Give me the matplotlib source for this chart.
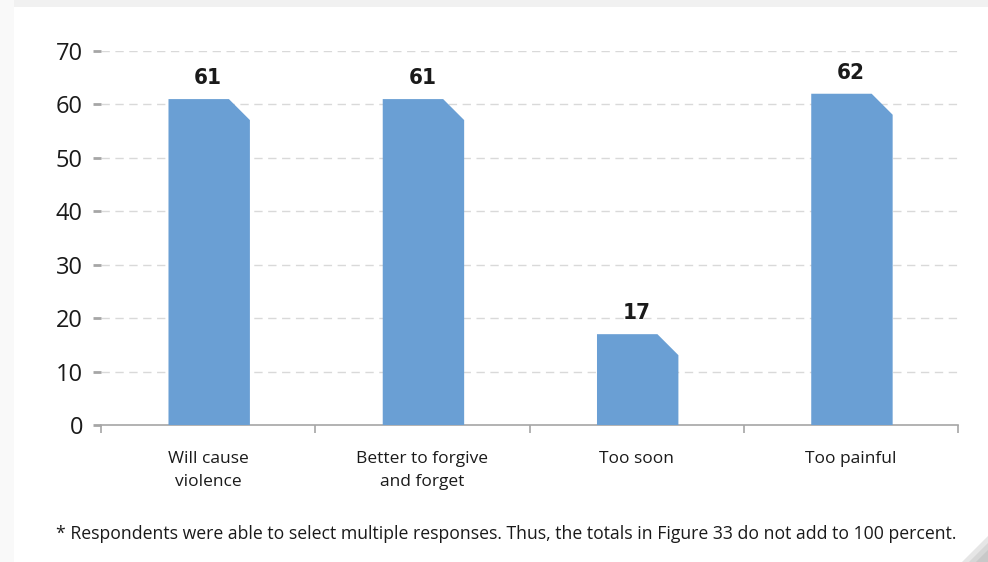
import matplotlib
matplotlib.use("Agg")
import matplotlib.pyplot as plt
from matplotlib.patches import Polygon, Rectangle
import numpy as np

categories = ["Will cause\nviolence", "Better to forgive\nand forget", "Too soon", "Too painful"]
values = [61, 61, 17, 62]
yticks = [0, 10, 20, 30, 40, 50, 60, 70]
footnote = ("* Respondents were able to select multiple responses. Thus, the totals in "
            "Figure 33 do not add to 100 percent.")

BAR_COLOR = "#6a9fd4"
GRID_COLOR = "#d9d9d9"
AXIS_COLOR = "#a6a6a6"
TEXT_COLOR = "#1a1a1a"
BASE_FONT = ["Open Sans", "DejaVu Sans"]
BOLD_FONT = ["DejaVu Sans"]

W, H, DPI = 988, 562, 100
fig = plt.figure(figsize=(W / DPI, H / DPI), dpi=DPI)
fig.patch.set_facecolor("white")

# faint page frame: grey strip along the top and the left edge
fig.patches.append(Rectangle((0, 1 - 7 / H), 1, 7 / H, transform=fig.transFigure,
                             facecolor="#f1f1f1", edgecolor="none", zorder=0))
fig.patches.append(Rectangle((0, 0), 14 / W, 1, transform=fig.transFigure,
                             facecolor="#f9f9f9", edgecolor="none", zorder=0))
# folded corner at the bottom right
for i, c in enumerate(["#e6e6e6", "#d6d6d6", "#c8c8c8"]):
    s = 26 - i * 7
    fig.patches.append(Polygon([(1 - s / W, 0), (1, s / H), (1, 0)], closed=True,
                               transform=fig.transFigure, facecolor=c,
                               edgecolor="none", zorder=1))

left, right = 101 / W, 958 / W
bottom, top = 1 - 425 / H, 1 - 51 / H
ax = fig.add_axes([left, bottom, right - left, top - bottom])
ax.set_facecolor("none")

n = len(categories)
ax.set_xlim(-0.5, n - 0.5)
ax.set_ylim(0, 70)

# bars with a clipped upper-right corner
bar_w = 0.38
ax_w_px = (right - left) * W
ax_h_px = (top - bottom) * H
cut_px = 21
dx = cut_px / (ax_w_px / n)
dy = cut_px / (ax_h_px / 70)
for i, v in enumerate(values):
    x0 = i - bar_w / 2 + 0.005
    x1 = i + bar_w / 2 + 0.005
    c = min(dy, v * 0.5)
    poly = Polygon([(x0, 0), (x0, v), (x1 - dx, v), (x1, v - c), (x1, 0)],
                   closed=True, facecolor=BAR_COLOR, edgecolor="none", zorder=3)
    ax.add_patch(poly)
    ax.annotate(str(v), xy=(i, v), xytext=(0, 8), textcoords="offset points",
                ha="center", va="bottom", fontsize=16, fontweight="bold",
                family=BOLD_FONT, fontstretch="condensed", color=TEXT_COLOR,
                zorder=4)

# dashed grid lines
for y in yticks[1:]:
    ax.axhline(y, color=GRID_COLOR, lw=1.0, dashes=(6, 4), zorder=1)

for s in ["top", "right", "left"]:
    ax.spines[s].set_visible(False)
ax.spines["bottom"].set_color(AXIS_COLOR)
ax.spines["bottom"].set_linewidth(1.2)

ax.set_yticks(yticks)
ax.set_yticklabels([str(t) for t in yticks], family=BASE_FONT, fontsize=17,
                   color=TEXT_COLOR)
ax.tick_params(axis="y", length=6, width=2, color=AXIS_COLOR, pad=7)

# category boundary ticks on the x axis, labels centered between them
ax.set_xticks(np.arange(n + 1) - 0.5)
ax.set_xticklabels([""] * (n + 1))
ax.tick_params(axis="x", which="major", length=6, width=1.2, color=AXIS_COLOR)
ax.set_xticks(np.arange(n), minor=True)
ax.set_xticklabels(categories, minor=True, family=BASE_FONT, fontsize=12.5,
                   color=TEXT_COLOR, linespacing=1.55, va="top")
ax.tick_params(axis="x", which="minor", length=0, pad=19)

fig.text(506 / W, 1 - 539 / H, footnote, ha="center", va="baseline",
         family=BASE_FONT, fontsize=12.7, color=TEXT_COLOR)

fig.savefig("out.png", dpi=DPI, facecolor=fig.get_facecolor())
